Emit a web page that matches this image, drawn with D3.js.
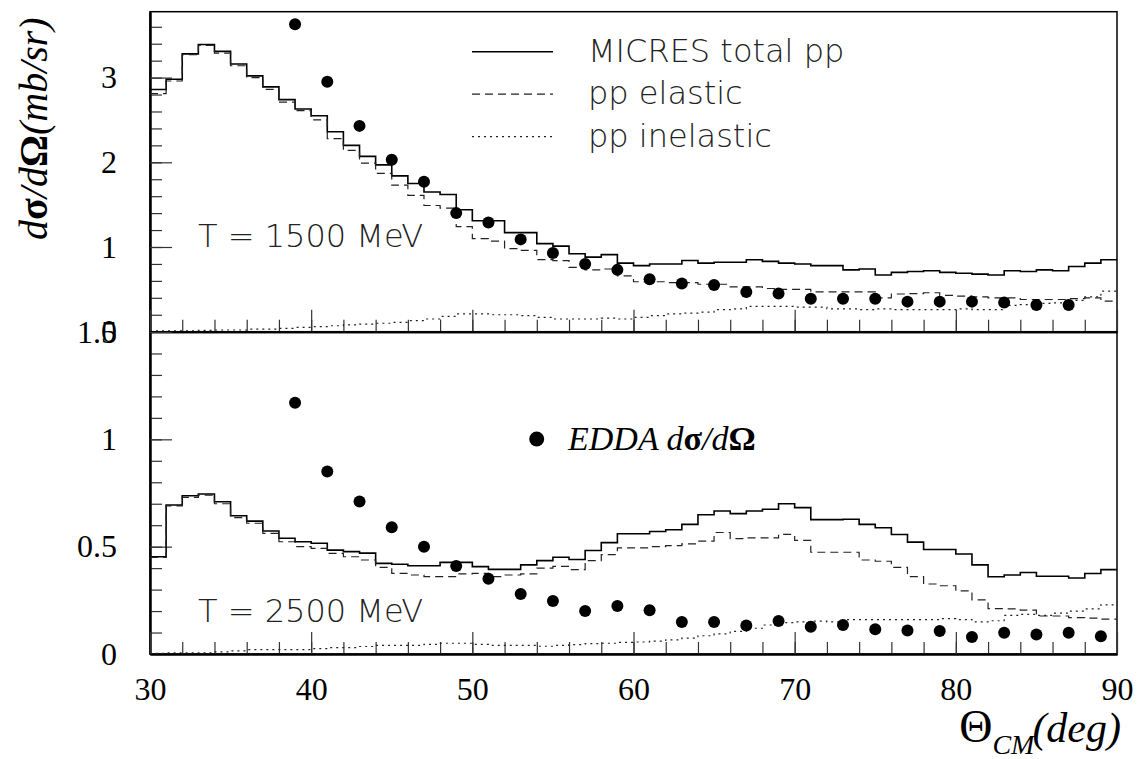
<!DOCTYPE html>
<html>
<head>
<meta charset="utf-8">
<title>MICRES pp vs EDDA</title>
<script src="https://cdn.jsdelivr.net/npm/d3@7"></script>
<style>
  body { margin: 0; background: #fff; }
  svg { display: block; }
  .axis .tick text { font-family: "Liberation Serif", "Times New Roman", serif; font-size: 32px; fill: #000; }
  .axis .tick line { stroke: #333; stroke-width: 1.2; }
  .axis .domain { stroke: #000; stroke-width: 2; }
  .lbl { font-family: "DejaVu Sans", sans-serif; font-weight: 200; font-size: 32px; fill: #222; }
  .serif { font-family: "Liberation Serif", "Times New Roman", serif; font-style: italic; fill: #000; }
  .up { font-style: normal; font-weight: bold; }
</style>
</head>
<body>
<svg id="chart" width="1138" height="759"></svg>
<script>
// histogram bins (1 deg wide, lower edges 30..89)
var bins = d3.range(30, 90, 1);

// T = 1500 MeV
var total1500 = [2.86, 2.98, 3.28, 3.39, 3.31, 3.16, 3.02, 2.89, 2.74, 2.63,
  2.55, 2.36, 2.20, 2.07, 1.97, 1.84, 1.75, 1.65, 1.62, 1.44,
  1.31, 1.31, 1.17, 1.17, 1.04, 1.01, 0.92, 0.88, 0.91, 0.81,
  0.78, 0.80, 0.80, 0.84, 0.81, 0.82, 0.82, 0.85, 0.83, 0.81,
  0.80, 0.78, 0.78, 0.73, 0.74, 0.67, 0.70, 0.71, 0.72, 0.70,
  0.69, 0.68, 0.67, 0.72, 0.71, 0.73, 0.72, 0.77, 0.81, 0.85];
var elastic1500 = [2.81, 2.96, 3.27, 3.38, 3.29, 3.14, 3.00, 2.86, 2.71, 2.61,
  2.50, 2.28, 2.14, 1.99, 1.87, 1.73, 1.61, 1.49, 1.46, 1.24,
  1.10, 1.07, 0.98, 0.96, 0.85, 0.84, 0.76, 0.73, 0.74, 0.66,
  0.59, 0.59, 0.58, 0.58, 0.56, 0.56, 0.53, 0.53, 0.51, 0.50,
  0.50, 0.47, 0.47, 0.47, 0.47, 0.40, 0.445, 0.45, 0.46, 0.43,
  0.42, 0.41, 0.40, 0.40, 0.38, 0.38, 0.38, 0.39, 0.40, 0.36];
var inelastic1500 = [0.01, 0.01, 0.01, 0.015, 0.02, 0.02, 0.03, 0.03, 0.04, 0.05,
  0.06, 0.07, 0.08, 0.09, 0.10, 0.11, 0.13, 0.15, 0.18, 0.21,
  0.21, 0.20, 0.20, 0.19, 0.17, 0.15, 0.15, 0.15, 0.16, 0.15,
  0.17, 0.19, 0.21, 0.22, 0.23, 0.26, 0.27, 0.30, 0.30, 0.30,
  0.29, 0.29, 0.27, 0.27, 0.26, 0.27, 0.26, 0.26, 0.26, 0.26,
  0.27, 0.26, 0.26, 0.31, 0.32, 0.335, 0.34, 0.37, 0.41, 0.48];
var eddaAngles1500 = [39, 41, 43, 45, 47, 49, 51, 53, 55, 57, 59, 61, 63,
  65, 67, 69, 71, 73, 75, 77, 79, 81, 83, 85, 87];
var edda1500 = [3.63, 2.95, 2.43, 2.03, 1.77, 1.40, 1.29, 1.09, 0.93, 0.80, 0.73, 0.62, 0.57,
  0.55, 0.47, 0.45, 0.39, 0.39, 0.39, 0.355, 0.355, 0.355, 0.345, 0.315, 0.315];

// T = 2500 MeV
var total2500 = [0.453, 0.694, 0.737, 0.745, 0.709, 0.644, 0.619, 0.573, 0.539, 0.523,
  0.516, 0.484, 0.477, 0.470, 0.422, 0.418, 0.411, 0.411, 0.427, 0.427,
  0.407, 0.394, 0.394, 0.415, 0.435, 0.451, 0.440, 0.482, 0.519, 0.560,
  0.560, 0.571, 0.579, 0.604, 0.649, 0.666, 0.654, 0.666, 0.674, 0.700,
  0.682, 0.626, 0.626, 0.628, 0.604, 0.588, 0.557, 0.521, 0.487, 0.487,
  0.466, 0.415, 0.360, 0.368, 0.380, 0.362, 0.362, 0.354, 0.375, 0.393];
var elastic2500 = [0.450, 0.690, 0.730, 0.740, 0.700, 0.635, 0.609, 0.562, 0.523, 0.500,
  0.492, 0.469, 0.453, 0.438, 0.404, 0.376, 0.368, 0.360, 0.360, 0.373,
  0.376, 0.360, 0.368, 0.373, 0.400, 0.408, 0.393, 0.435, 0.463, 0.494,
  0.494, 0.500, 0.505, 0.513, 0.526, 0.566, 0.537, 0.541, 0.541, 0.557,
  0.529, 0.474, 0.474, 0.474, 0.438, 0.432, 0.404, 0.360, 0.326, 0.318,
  0.294, 0.252, 0.211, 0.210, 0.204, 0.177, 0.177, 0.169, 0.167, 0.162];
var inelastic2500 = [0.003, 0.005, 0.005, 0.005, 0.010, 0.015, 0.020, 0.020, 0.020, 0.020,
  0.025, 0.030, 0.030, 0.035, 0.040, 0.040, 0.040, 0.045, 0.050, 0.050,
  0.045, 0.040, 0.040, 0.040, 0.036, 0.040, 0.044, 0.048, 0.050, 0.054,
  0.056, 0.060, 0.066, 0.074, 0.085, 0.094, 0.105, 0.120, 0.135, 0.146,
  0.150, 0.153, 0.150, 0.160, 0.160, 0.160, 0.160, 0.160, 0.160, 0.165,
  0.160, 0.150, 0.155, 0.180, 0.185, 0.180, 0.190, 0.200, 0.210, 0.229];
var eddaAngles2500 = [39, 41, 43, 45, 47, 49, 51, 53, 55, 57, 59, 61, 63,
  65, 67, 69, 71, 73, 75, 77, 79, 81, 83, 85, 87, 89];
var edda2500 = [1.17, 0.85, 0.71, 0.59, 0.50, 0.41, 0.35, 0.28, 0.247, 0.20, 0.224, 0.204, 0.149,
  0.149, 0.133, 0.154, 0.127, 0.135, 0.115, 0.11, 0.107, 0.079, 0.099, 0.091, 0.099, 0.083];

// axis ticks
var xMajor = [30, 40, 50, 60, 70, 80, 90];
var xMinor = d3.range(32, 90, 2);
var yMajor1500 = [0, 1, 2, 3];
var yMinor1500 = d3.range(0.2, 3.7, 0.2);
var yMajor2500 = [0, 0.5, 1, 1.5];
var yMinor2500 = d3.range(0.1, 1.45, 0.1);

var legendNames = ["MICRES total pp", "pp elastic", "pp inelastic"];

var svg = d3.select("#chart");
var x = d3.scaleLinear().domain([30, 90]).range([150, 1117]);
var yTop = d3.scaleLinear().domain([0, 3.778]).range([331.7, 11.7]);
var yBot = d3.scaleLinear().domain([0, 1.5]).range([654, 332]);

var styles = [
  { w: 1.6, dash: null, c: "#000" },
  { w: 1.2, dash: "8,5", c: "#222" },
  { w: 1.2, dash: "2,4", c: "#222" }
];

function histPath(y, vals) {
  var pts = bins.map(function(b, i) { return [b, vals[i]]; });
  pts.push([90, vals[vals.length - 1]]);
  return d3.line()
    .x(function(d) { return x(d[0]); })
    .y(function(d) { return y(d[1]); })
    .curve(d3.curveStepAfter)(pts);
}

function panel(y, major, minor, series, angles, edda, showLabels) {
  var y0 = y.range()[0], y1 = y.range()[1];

  // frame
  svg.append("rect")
    .attr("x", 150).attr("y", y1)
    .attr("width", 1117 - 150).attr("height", y0 - y1)
    .attr("fill", "none").attr("stroke", "#000").attr("stroke-width", 1.5);

  // y axis
  svg.append("g").attr("class", "axis").attr("transform", "translate(150,0)")
    .call(d3.axisLeft(y).tickValues(minor).tickSizeInner(-12).tickSizeOuter(0).tickFormat(""));
  svg.append("g").attr("class", "axis").attr("transform", "translate(150,0)")
    .call(d3.axisLeft(y).tickValues(major).tickSizeInner(-22).tickSizeOuter(0)
      .tickPadding(33).tickFormat(d3.format("")));

  // x axis
  svg.append("g").attr("class", "axis").attr("transform", "translate(0," + y0 + ")")
    .call(d3.axisBottom(x).tickValues(xMinor).tickSizeInner(-12).tickSizeOuter(0).tickFormat(""));
  svg.append("g").attr("class", "axis").attr("transform", "translate(0," + y0 + ")")
    .call(d3.axisBottom(x).tickValues(xMajor).tickSizeInner(-22).tickSizeOuter(0)
      .tickPadding(23).tickFormat(showLabels ? d3.format("") : ""));

  // histograms
  series.forEach(function(vals, i) {
    svg.append("path")
      .attr("d", histPath(y, vals))
      .attr("fill", "none")
      .attr("stroke", styles[i].c)
      .attr("stroke-width", styles[i].w)
      .attr("stroke-dasharray", styles[i].dash);
  });

  // EDDA points
  svg.append("g").selectAll("circle")
    .data(angles)
    .join("circle")
    .attr("cx", function(d) { return x(d); })
    .attr("cy", function(d, i) { return y(edda[i]); })
    .attr("r", 6)
    .attr("fill", "#000");
}

panel(yTop, yMajor1500, yMinor1500, [total1500, elastic1500, inelastic1500], eddaAngles1500, edda1500, false);
panel(yBot, yMajor2500, yMinor2500, [total2500, elastic2500, inelastic2500], eddaAngles2500, edda2500, true);

// legend (top panel)
legendNames.forEach(function(name, i) {
  var ly = 51.7 + i * 42.5;
  svg.append("line")
    .attr("x1", 472).attr("x2", 553).attr("y1", ly).attr("y2", ly)
    .attr("stroke", styles[i].c).attr("stroke-width", styles[i].w)
    .attr("stroke-dasharray", styles[i].dash);
  svg.append("text").attr("class", "lbl")
    .attr("x", 588).attr("y", ly + 10).text(name);
});

svg.append("text").attr("class", "lbl").attr("x", 198).attr("y", 246.7).text("T = 1500 MeV");
svg.append("text").attr("class", "lbl").attr("x", 198).attr("y", 621.5).text("T = 2500 MeV");

// EDDA legend
svg.append("circle").attr("cx", 536.7).attr("cy", 439).attr("r", 7.5).attr("fill", "#000");
var ed = svg.append("text").attr("class", "serif").attr("x", 568).attr("y", 450).style("font-size", "34px");
ed.append("tspan").text("EDDA d");
ed.append("tspan").attr("class", "up").text("σ");
ed.append("tspan").text("/d");
ed.append("tspan").attr("class", "up").text("Ω");

// y title
var yt = svg.append("text").attr("class", "serif")
  .attr("transform", "translate(47,240) rotate(-90)")
  .style("font-size", "40px");
yt.append("tspan").text("d");
yt.append("tspan").attr("class", "up").text("σ");
yt.append("tspan").text("/d");
yt.append("tspan").attr("class", "up").text("Ω");
yt.append("tspan").text("(mb/sr)");

// x title
var xt = svg.append("text").attr("class", "serif")
  .attr("x", 1121).attr("y", 742).attr("text-anchor", "end")
  .style("font-size", "42px");
xt.append("tspan").style("font-style", "normal").style("font-size", "46px").text("Θ");
xt.append("tspan").style("font-size", "28px").attr("dy", 12).text("CM");
xt.append("tspan").attr("dy", -12).attr("dx", -2).text("(deg)");
</script>
</body>
</html>
